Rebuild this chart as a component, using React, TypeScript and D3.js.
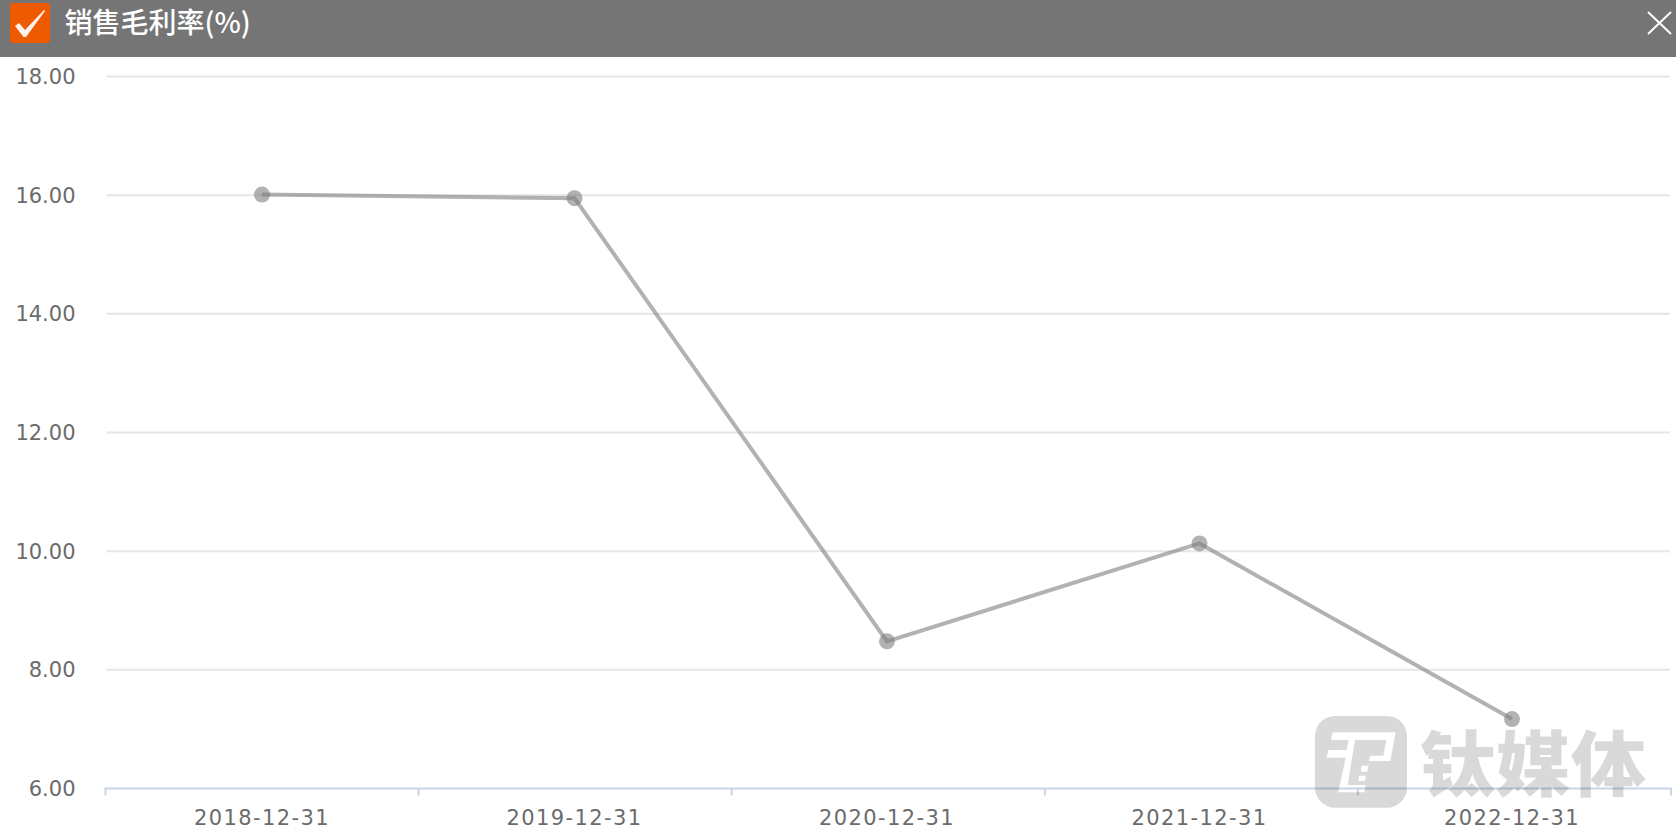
import * as d3 from "d3";

const categories = ["2018-12-31", "2019-12-31", "2020-12-31", "2021-12-31", "2022-12-31"];
const marginRates = [16.01, 15.95, 8.48, 10.13, 7.17];
const yTicks = [6, 8, 10, 12, 14, 16, 18];
const title = "销售毛利率(%)";
const watermark = "钛媒体";

const WIDTH = 1676;
const HEIGHT = 840;
const HEADER_H = 57;
const PLOT = { left: 105.5, right: 1671, top: 76.5, bottom: 788.5 };
const AXIS_FONT = "'DejaVu Sans', sans-serif";

// Logo plate with the T/P letters cut out, so the axis shows through them
const LOGO_PATH =
  "M90 33H246A60 60 0 0 1 306 93V248A60 60 0 0 1 246 308H90A60 60 0 0 1 30 248V93A60 60 0 0 1 90 33Z" +
  "M83 82L272 82L256 168L192 168L195 152L235 152L244 105L150 105L128 240L182 240L178 262L100 262L122 158L65 158L70 135L125 135L131 105L78 105Z" +
  "M170 182L190 182L187 200L167 200Z" +
  "M162 212L183 212L180 228L160 228Z";

export default function App() {
  // ticks sit on band edges, the points run a touch tighter than the band centres
  const band = d3.scaleBand().domain(categories).range([PLOT.left, PLOT.right]);
  const x = d3.scalePoint().domain(categories).range([262, 1512]);
  const y = d3.scaleLinear().domain([6, 18]).range([PLOT.bottom, PLOT.top]);

  const line = d3.line<number>()
    .x((_, i) => x(categories[i]) as number)
    .y((d) => y(d));

  const edges = [...categories.map((c) => band(c) as number), PLOT.right];

  return (
    <svg
      width={WIDTH}
      height={HEIGHT}
      viewBox={`0 0 ${WIDTH} ${HEIGHT}`}
      style={{ position: "absolute", left: 0, top: 0, display: "block", background: "#fff" }}
    >
      {/* Grid */}
      {yTicks.filter((t) => t !== 6).map((t) => (
        <line key={t} x1={PLOT.left + 1} x2={PLOT.right - 1} y1={y(t)} y2={y(t)} stroke="#e6e6e6" strokeWidth={2} />
      ))}

      {/* Y labels */}
      {yTicks.map((t) => (
        <text key={t} x={75.5} y={y(t)} dy="0.36em" textAnchor="end" fontFamily={AXIS_FONT} fontSize={21} fill="#6b6b6b">
          {t.toFixed(2)}
        </text>
      ))}

      {/* X axis */}
      <line x1={PLOT.left - 1} x2={PLOT.right + 1} y1={PLOT.bottom} y2={PLOT.bottom} stroke="#c8d4e8" strokeWidth={2} />
      {edges.map((e) => (
        <line key={e} x1={e} x2={e} y1={PLOT.bottom} y2={PLOT.bottom + 7} stroke="#c8d4e8" strokeWidth={2} />
      ))}
      {categories.map((c) => (
        <text
          key={c}
          x={x(c) as number}
          y={825}
          textAnchor="middle"
          fontFamily={AXIS_FONT}
          fontSize={21}
          letterSpacing={1.4}
          fill="#6b6b6b"
        >
          {c}
        </text>
      ))}

      {/* Series */}
      <path d={line(marginRates) as string} fill="none" stroke="#7f7f7f" strokeOpacity={0.6} strokeWidth={4} />
      {marginRates.map((v, i) => (
        <circle key={categories[i]} cx={x(categories[i]) as number} cy={y(v)} r={8} fill="#7f7f7f" fillOpacity={0.6} />
      ))}

      {/* Watermark */}
      <g fill="#000" fillOpacity={0.15}>
        <path transform="translate(1305,705) scale(0.3333)" d={LOGO_PATH} fillRule="evenodd" />
        <text
          x={1420}
          y={790}
          fontFamily="'Noto Sans CJK SC', sans-serif"
          fontWeight={900}
          fontSize={71}
          textLength={226}
          lengthAdjust="spacingAndGlyphs"
        >
          {watermark}
        </text>
      </g>

      {/* Header bar */}
      <rect x={0} y={0} width={WIDTH} height={HEADER_H} fill="#757575" />
      <rect x={10} y={3} width={40} height={40} rx={3} fill="#ee5a00" />
      <path d="M15 26L19 23L25 30L44 10L45 11L26 37L23.5 37Z" fill="#fff" fillOpacity={0.92} />
      <text x={64.5} y={33} fontFamily="'Noto Sans CJK SC', sans-serif" fontWeight={500} fontSize={28} fill="#fff">
        {title}
      </text>
      <path d="M1648 12L1671 34M1671 12L1648 34" stroke="#fff" strokeWidth={2} fill="none" />
    </svg>
  );
}
